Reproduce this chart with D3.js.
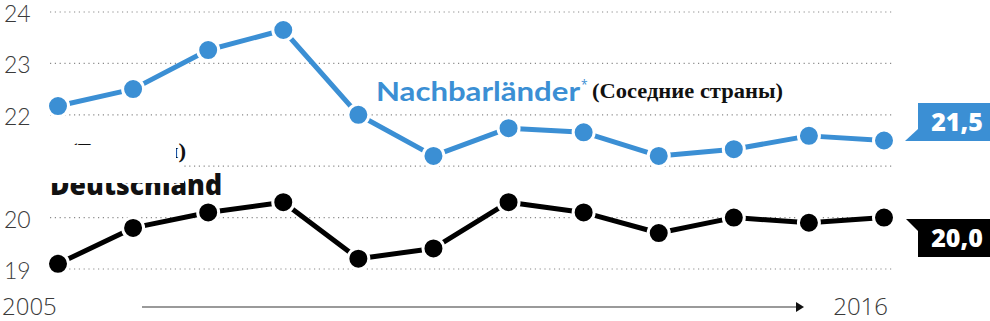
<!DOCTYPE html>
<html><head><meta charset="utf-8">
<script src="https://cdn.jsdelivr.net/npm/d3@7"></script>
<style>body{margin:0;background:#fff}svg{display:block}</style>
</head><body>
<svg id="c" width="990" height="321"></svg>
<script>
const years = [2005,2006,2007,2008,2009,2010,2011,2012,2013,2014,2015,2016];
const nachbar = [22.17,22.5,23.26,23.65,22.0,21.2,21.74,21.66,21.2,21.33,21.59,21.5];
const deutschland = [19.1,19.8,20.1,20.3,19.2,19.4,20.3,20.1,19.7,20.0,19.9,20.0];
const yTicks = [19,20,21,22,23,24];
const xLabels = ["2005","2016"];
const blue = "#3b8fd4";

const svg = d3.select("#c");
const x = d3.scaleLinear().domain([2005,2016]).range([58,884]);
const y = d3.scaleLinear().domain([19,24]).range([269,12]);

// grid
svg.append("g").selectAll("line").data(yTicks).join("line")
  .attr("x1",50).attr("x2",893).attr("y1",d=>y(d)).attr("y2",d=>y(d))
  .attr("stroke","#8a8a8a").attr("stroke-width",1.2).attr("stroke-dasharray","1.2,3.6");
svg.append("g").selectAll("text").data(yTicks).join("text")
  .attr("x",4).attr("y",d=>y(d)+10).text(d=>d)
  .attr("font-family","Lato, 'Open Sans', sans-serif").attr("font-weight",300)
  .attr("font-size",23).attr("fill","#3a3a3a");

// Deutschland label + white cover
svg.append("text").attr("x",50).attr("y",195).text("Deutschland")
  .attr("font-family","'Open Sans', Lato, sans-serif").attr("font-weight",800)
  .attr("font-size",29).attr("textLength",172).attr("lengthAdjust","spacingAndGlyphs").attr("fill","#111");
svg.append("rect").attr("x",0).attr("y",127).attr("width",184).attr("height",56).attr("fill","#fff");
svg.append("text").attr("x",70).attr("y",158).text("(Германия)")
  .attr("font-family","'Liberation Serif', serif").attr("font-weight",700)
  .attr("font-size",21).attr("textLength",116).attr("lengthAdjust","spacingAndGlyphs").attr("fill","#111");
svg.append("rect").attr("x",68).attr("y",145).attr("width",108).attr("height",25).attr("fill","#fff");

function series(vals,color,r){
  const line = d3.line().x((d,i)=>x(years[i])).y(d=>y(d));
  svg.append("path").datum(vals).attr("d",line).attr("fill","none")
    .attr("stroke",color).attr("stroke-width",5).attr("stroke-linejoin","round");
  svg.append("g").selectAll("circle").data(vals).join("circle")
    .attr("cx",(d,i)=>x(years[i])).attr("cy",d=>y(d)).attr("r",r)
    .attr("fill",color).attr("stroke","#fff").attr("stroke-width",3);
}
series(nachbar,blue,10.5);
series(deutschland,"#000",10.5);

// Nachbarländer label
svg.append("text").attr("x",376).attr("y",101).text("Nachbarländer")
  .attr("font-family","Lato, 'Open Sans', sans-serif").attr("font-weight",700)
  .attr("font-size",27).attr("textLength",204).attr("lengthAdjust","spacingAndGlyphs").attr("fill",blue);
svg.append("text").attr("x",581).attr("y",89).text("*")
  .attr("font-family","'Open Sans', sans-serif").attr("font-size",12).attr("fill",blue);
svg.append("text").attr("x",592).attr("y",98).text("(Соседние страны)")
  .attr("font-family","'Liberation Serif', serif").attr("font-weight",700)
  .attr("font-size",20).attr("textLength",191).attr("lengthAdjust","spacingAndGlyphs").attr("fill","#111");

// end value tags
function tag(val,color,top,pointUp){
  const bx=918, bw=72, bh=38;
  const by = top;
  const g = svg.append("g");
  g.append("rect").attr("x",bx).attr("y",by).attr("width",bw).attr("height",bh).attr("fill",color);
  if(pointUp){
    g.append("path").attr("d",`M${bx},${by} L${bx-12},${by} L${bx},${by+12} Z`).attr("fill",color);
  } else {
    g.append("path").attr("d",`M${bx},${by+bh} L${bx-13},${by+bh} L${bx},${by+bh-12} Z`).attr("fill",color);
  }
  g.append("text").attr("x",bx+bw/2+3).attr("y",by+bh/2+9).attr("text-anchor","middle")
    .text(d3.format(".1f")(val).replace(".",","))
    .attr("font-family","'Open Sans', Lato, sans-serif").attr("font-weight",800)
    .attr("font-size",25).attr("fill","#fff");
}
tag(nachbar[nachbar.length-1],blue,103,false);
tag(deutschland[deutschland.length-1],"#000",219,true);

// bottom axis
svg.append("text").attr("x",2).attr("y",315).text(xLabels[0])
  .attr("font-family","'Open Sans', Lato, sans-serif").attr("font-weight",300)
  .attr("font-size",24).attr("fill","#3a3a3a");
svg.append("text").attr("x",888).attr("y",315).attr("text-anchor","end").text(xLabels[1])
  .attr("font-family","'Open Sans', Lato, sans-serif").attr("font-weight",300)
  .attr("font-size",24).attr("fill","#3a3a3a");
svg.append("line").attr("x1",142).attr("x2",798).attr("y1",307).attr("y2",307)
  .attr("stroke","#9a9a9a").attr("stroke-width",2);
svg.append("path").attr("d","M796,302 L804,307 L796,312 Z").attr("fill","#111");
</script>
</body></html>
